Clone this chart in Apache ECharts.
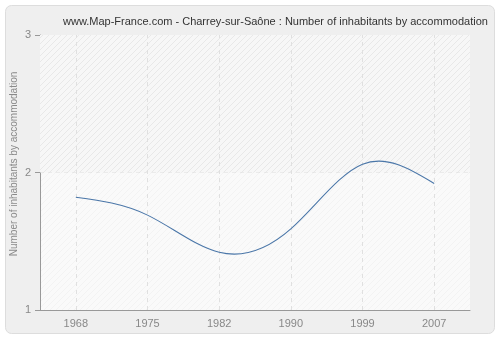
<!DOCTYPE html>
<html><head><meta charset="utf-8">
<script src="https://cdn.jsdelivr.net/npm/echarts@6/dist/echarts.min.js"></script>
<style>html,body{margin:0;padding:0;background:#fff}#c{width:500px;height:340px}</style>
</head><body><div id="c"></div>
<script>
var categories = ['1968', '1975', '1982', '1990', '1999', '2007'];
var values = [1.82, 1.69, 1.42, 1.59, 2.06, 1.92];
var yTicks = [1, 2, 3];
var titleText = 'www.Map-France.com - Charrey-sur-Saône : Number of inhabitants by accommodation';
var yName = 'Number of inhabitants by accommodation';

function hatch(bg, fg) {
  var c = document.createElement('canvas');
  c.width = 6; c.height = 6;
  var g = c.getContext('2d');
  g.fillStyle = bg; g.fillRect(0, 0, 6, 6);
  g.strokeStyle = fg; g.lineWidth = 1;
  g.beginPath();
  g.moveTo(-1, 7); g.lineTo(7, -1);
  g.moveTo(-1, 1); g.lineTo(1, -1);
  g.moveTo(5, 7); g.lineTo(7, 5);
  g.stroke();
  return { image: c, repeat: 'repeat' };
}

// natural cubic spline through pixel points, returned as SVG path data
function splinePath(pts) {
  var n = pts.length, i;
  var h = [], M = new Array(n).fill(0);
  for (i = 0; i < n - 1; i++) h.push(pts[i + 1][0] - pts[i][0]);
  if (n > 2) {
    var a = [], b = [], c = [], d = [];
    for (i = 1; i < n - 1; i++) {
      a.push(h[i - 1]); b.push(2 * (h[i - 1] + h[i])); c.push(h[i]);
      d.push(6 * ((pts[i + 1][1] - pts[i][1]) / h[i] - (pts[i][1] - pts[i - 1][1]) / h[i - 1]));
    }
    var m = b.length;
    for (i = 1; i < m; i++) {
      var w = a[i] / b[i - 1];
      b[i] -= w * c[i - 1]; d[i] -= w * d[i - 1];
    }
    var sol = new Array(m);
    sol[m - 1] = d[m - 1] / b[m - 1];
    for (i = m - 2; i >= 0; i--) sol[i] = (d[i] - c[i] * sol[i + 1]) / b[i];
    for (i = 0; i < m; i++) M[i + 1] = sol[i];
  }
  var p = 'M' + pts[0][0] + ' ' + pts[0][1];
  for (i = 0; i < n - 1; i++) {
    var x0 = pts[i][0], y0 = pts[i][1], x1 = pts[i + 1][0], y1 = pts[i + 1][1], hh = h[i];
    var s0 = (y1 - y0) / hh - hh * (2 * M[i] + M[i + 1]) / 6;
    var s1 = (y1 - y0) / hh + hh * (M[i] + 2 * M[i + 1]) / 6;
    p += ' C' + (x0 + hh / 3) + ' ' + (y0 + s0 * hh / 3) + ' ' +
         (x1 - hh / 3) + ' ' + (y1 - s1 * hh / 3) + ' ' + x1 + ' ' + y1;
  }
  return p;
}

var chart = echarts.init(document.getElementById('c'), null, { renderer: 'canvas' });
var font = 'Liberation Sans';
var gridLine = { color: '#e0e0e0', type: [4, 4], width: 1 };
chart.setOption({
  backgroundColor: '#ffffff',
  animation: false,
  graphic: [{
    type: 'rect', z: -10, silent: true,
    shape: { x: 5.5, y: 5.5, width: 489, height: 328, r: 6 },
    style: { fill: '#efefef', stroke: '#dddddd', lineWidth: 1 }
  }, {
    type: 'text', silent: true, x: 14, y: 164, rotation: Math.PI / 2,
    style: { text: yName, fill: '#8a8a8a', font: '10px "Liberation Sans"', align: 'center', verticalAlign: 'middle' }
  }],
  title: {
    text: titleText, left: 58, top: 11,
    textStyle: { fontFamily: font, fontSize: 11, fontWeight: 'normal', color: '#333333' }
  },
  grid: {
    left: 40, right: 30, top: 35, bottom: 30, show: true,
    backgroundColor: hatch('#fafafa', '#f3f3f3'), borderWidth: 0
  },
  xAxis: {
    type: 'category', data: categories, boundaryGap: true,
    axisLine: { lineStyle: { color: '#999999' } },
    axisTick: { alignWithLabel: true, length: 5, lineStyle: { color: '#999999' } },
    axisLabel: { color: '#888888', fontFamily: font, fontSize: 11, margin: 8 },
    splitLine: { show: false }
  },
  yAxis: {
    type: 'value', min: 1, max: 3, interval: 1,
    axisLine: { show: true, lineStyle: { color: '#999999' } },
    axisTick: { show: true, length: 5, lineStyle: { color: '#999999' } },
    axisLabel: { color: '#888888', fontFamily: font, fontSize: 11, margin: 9,
      formatter: function (v) { return yTicks.indexOf(v) >= 0 ? String(v) : ''; } },
    splitLine: { show: true, lineStyle: gridLine }
  },
  series: [{
    type: 'line', data: values, symbol: 'none', lineStyle: { opacity: 0 },
    silent: true, z: 1,
    markArea: {
      silent: true,
      itemStyle: { color: hatch('#f7f7f7', '#e8e8e8') },
      data: [[{ yAxis: 2 }, { yAxis: 3 }]]
    },
    markLine: {
      silent: true, symbol: 'none', label: { show: false },
      lineStyle: gridLine,
      data: categories.map(function (c) { return { xAxis: c }; })
    }
  }, {
    type: 'custom', z: 5, silent: true,
    data: values.map(function (v, i) { return [i, v]; }),
    renderItem: function (params, api) {
      if (params.dataIndex !== 0) return null;
      var pts = values.map(function (v, i) { return api.coord([i, v]); });
      return {
        type: 'path',
        shape: { pathData: splinePath(pts) },
        style: { stroke: '#4a76a8', fill: 'none', lineWidth: 1.1 }
      };
    }
  }]
});
</script></body></html>
